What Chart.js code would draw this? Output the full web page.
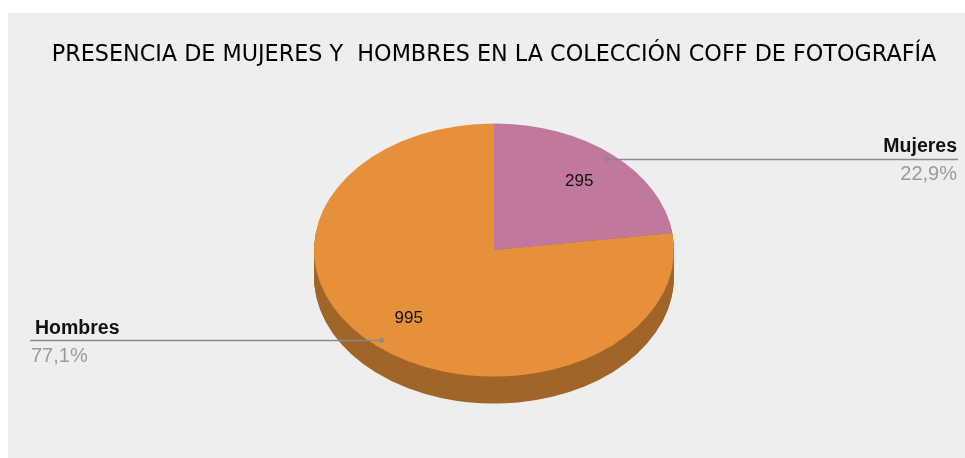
<!DOCTYPE html>
<html>
<head>
<meta charset="utf-8">
<script src="https://cdn.jsdelivr.net/npm/chart.js@4.4.0/dist/chart.umd.min.js"></script>
<style>
  body { margin: 0; background: #ffffff; }
</style>
</head>
<body>
<canvas id="graficoPie" width="965" height="458"></canvas>
<script>
// Datos del gráfico
const categorias = ['Mujeres', 'Hombres'];
const valores = [295, 995];
const colores = ['#c0789e', '#e6913a'];
const titulo = 'PRESENCIA DE MUJERES Y  HOMBRES EN LA COLECCIÓN COFF DE FOTOGRAFÍA';

const total = valores.reduce((a, b) => a + b, 0);
const porcentajes = valores.map(v => (v / total * 100).toFixed(1).replace('.', ',') + '%');

const aplastar = 0.703;   // relación alto/ancho de la elipse
const grosor = 27;        // espesor del "3D"

function transformar(ctx, arc) {
  ctx.translate(arc.x, arc.y);
  ctx.scale(1, aplastar);
  ctx.translate(-arc.x, -arc.y);
}

function punto(arc, frac) {
  const a = (arc.startAngle + arc.endAngle) / 2;
  const r = arc.outerRadius * frac;
  return { x: arc.x + Math.cos(a) * r, y: arc.y + Math.sin(a) * r * aplastar };
}

const fondo = {
  id: 'fondo',
  beforeDraw(chart) {
    const ctx = chart.ctx;
    ctx.save();
    ctx.fillStyle = '#eeeeee';
    ctx.fillRect(8, 13, chart.width - 8, chart.height - 13);
    ctx.restore();
  }
};

const pastel3d = {
  id: 'pastel3d',
  beforeDatasetsDraw(chart) {
    const ctx = chart.ctx;
    const arcos = chart.getDatasetMeta(0).data;
    // lado oscuro
    for (let d = grosor; d >= 1; d--) {
      ctx.save();
      ctx.translate(0, d);
      transformar(ctx, arcos[0]);
      ctx.filter = 'brightness(0.7)';
      arcos.forEach(arc => arc.draw(ctx));
      ctx.restore();
    }
    ctx.save();
    transformar(ctx, arcos[0]);
  },
  afterDatasetsDraw(chart) {
    const ctx = chart.ctx;
    ctx.restore();
    const arcos = chart.getDatasetMeta(0).data;
    ctx.save();
    arcos.forEach((arc, i) => {
      // valor dentro del sector
      const c = punto(arc, 0.72);
      ctx.fillStyle = '#111111';
      ctx.font = '17px "Liberation Sans", Arial, sans-serif';
      ctx.textAlign = 'center';
      ctx.textBaseline = 'middle';
      ctx.fillText(valores[i], c.x, c.y);

      // línea guía
      const p = punto(arc, 0.95);
      const derecha = p.x > arc.x;
      const xFin = derecha ? chart.width - 7 : 30;
      ctx.strokeStyle = '#8a8a8a';
      ctx.lineWidth = 1.5;
      ctx.beginPath();
      ctx.moveTo(p.x, p.y);
      ctx.lineTo(xFin, p.y);
      ctx.stroke();
      ctx.fillStyle = '#8a8a8a';
      ctx.beginPath();
      ctx.arc(p.x, p.y, 2.5, 0, Math.PI * 2);
      ctx.fill();

      // etiqueta y porcentaje
      ctx.textBaseline = 'alphabetic';
      ctx.textAlign = derecha ? 'right' : 'left';
      ctx.fillStyle = '#111111';
      ctx.font = 'bold 19.5px "Liberation Sans", Arial, sans-serif';
      ctx.fillText(categorias[i], derecha ? xFin - 1 : xFin + 5, p.y - 7);
      ctx.fillStyle = '#9a9a9a';
      ctx.font = '20px "Liberation Sans", Arial, sans-serif';
      ctx.fillText(porcentajes[i], derecha ? xFin - 1 : xFin + 1, p.y + 21);
    });
    ctx.restore();
  }
};

const ctx = document.getElementById('graficoPie').getContext('2d');
const grafico = new Chart(ctx, {
  type: 'pie',
  data: {
    labels: categorias,
    datasets: [{
      data: valores,
      backgroundColor: colores,
      borderWidth: 0,
      clip: false
    }]
  },
  options: {
    responsive: false,
    animation: false,
    events: [],
    layout: { padding: { left: 23, right: 0, top: 0, bottom: 28 } },
    plugins: {
      legend: { display: false },
      tooltip: { enabled: false },
      title: {
        display: true,
        text: titulo,
        color: '#000000',
        font: { family: '"DejaVu Sans", sans-serif', size: 22.3, weight: 'normal', lineHeight: 1.2 },
        padding: { top: 42, bottom: 1.24 }
      }
    }
  },
  plugins: [fondo, pastel3d]
});
</script>
</body>
</html>
